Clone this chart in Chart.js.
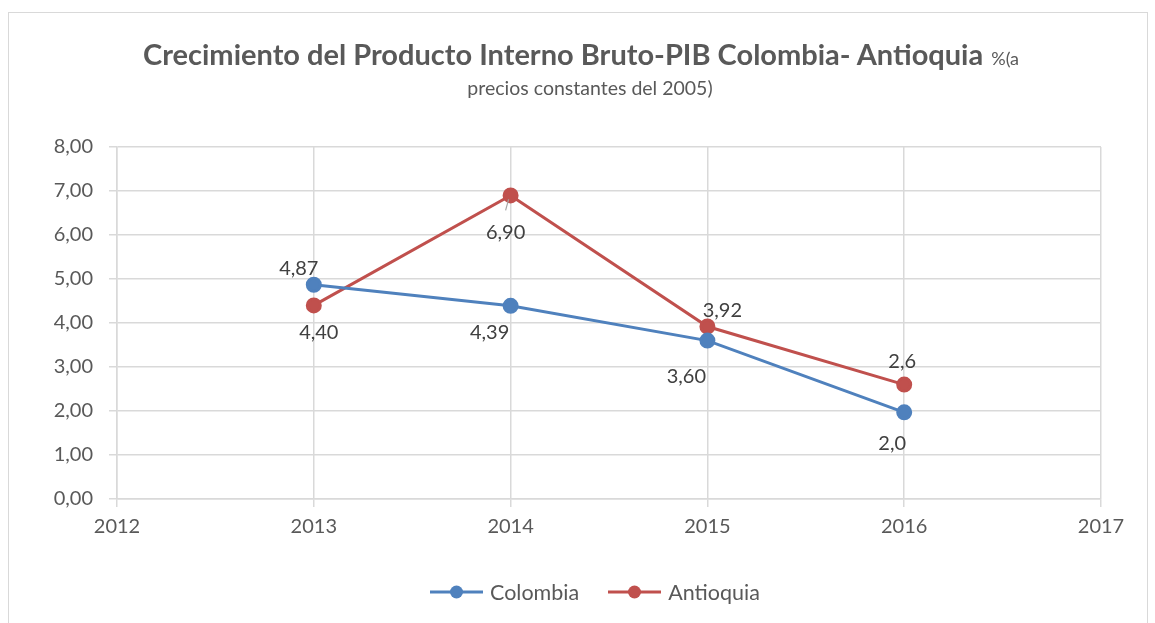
<!DOCTYPE html>
<html><head><meta charset="utf-8">
<script src="https://cdn.jsdelivr.net/npm/chart.js@4.4.0/dist/chart.umd.min.js"></script>
<style>
html,body{margin:0;padding:0;background:#fff;}
#wrap{position:relative;width:1155px;height:623px;overflow:hidden;font-family:Lato,"Open Sans",sans-serif;}
#frame{position:absolute;left:8px;top:12px;width:1140px;height:640px;border:1px solid #d9d9d9;box-sizing:border-box;}
#c{position:absolute;left:0;top:0;}
#t1{position:absolute;left:143px;top:36px;color:#595959;white-space:nowrap;}
#t1 b{font-size:29px;font-weight:700;}
#t1 span{font-size:18px;margin-left:8px;}
#t2{position:absolute;left:0;width:1180px;top:76px;text-align:center;color:#595959;font-size:19.5px;white-space:nowrap;}
#legend{position:absolute;left:430px;top:579px;color:#595959;font-size:21.5px;white-space:nowrap;}
.li{display:inline-flex;align-items:center;margin-right:29px;}
.li svg{margin-right:7px;}
</style>
</head><body>
<div id="wrap">
<div id="frame"></div>
<canvas id="c" width="1155" height="623"></canvas>
<div id="t1"><b>Crecimiento del Producto Interno Bruto-PIB Colombia- Antioquia</b><span>%(a</span></div>
<div id="t2">precios constantes del 2005)</div>
<div id="legend"></div>
</div>
<script>
const years = [2013, 2014, 2015, 2016];
const colombia = [4.87, 4.39, 3.60, 1.97];
const antioquia = [4.40, 6.90, 3.92, 2.60];
const colombiaLabels = ["4,87", "4,39", "3,60", "2,0"];
const antioquiaLabels = ["4,40", "6,90", "3,92", "2,6"];
const seriesNames = ["Colombia", "Antioquia"];
const xMin = 2012, xMax = 2017;
const yMin = 0, yMax = 8;

const BLUE = "#4f81bd", RED = "#c0504d";
const GRID = "#d9d9d9", TXT = "#595959";

// label offsets (style) relative to each point
const labelOffsets = [
  [[-15,-16],[-21,27],[-21,36],[-12,31]],
  [[5,27],[-5,37],[15,-16],[-2,-23]]
];

const labelPlugin = {
  id: 'dlabels',
  afterDatasetsDraw(chart) {
    const ctx = chart.ctx;
    ctx.save();
    ctx.font = '20px Lato, "Open Sans", sans-serif';
    ctx.fillStyle = '#404040';
    ctx.textAlign = 'center';
    ctx.textBaseline = 'middle';
    chart.data.datasets.forEach((ds, di) => {
      const meta = chart.getDatasetMeta(di);
      meta.data.forEach((el, i) => {
        const [dx, dy] = labelOffsets[di][i];
        ctx.fillText(ds.labelsText[i], el.x + dx, el.y + dy);
        if (di === 1 && i === 1) {
          ctx.strokeStyle = '#a6a6a6';
          ctx.lineWidth = 1.2;
          ctx.beginPath();
          ctx.moveTo(el.x - 2, el.y + 4);
          ctx.lineTo(el.x - 5, el.y + 15);
          ctx.stroke();
        }
      });
    });
    ctx.restore();
  }
};

const mk = (vals) => years.map((x, i) => ({x: x, y: vals[i]}));

new Chart(document.getElementById('c'), {
  type: 'line',
  data: {
    datasets: [
      {label: seriesNames[0], data: mk(colombia), labelsText: colombiaLabels,
       borderColor: BLUE, backgroundColor: BLUE, borderWidth: 3,
       pointRadius: 6.5, pointBackgroundColor: BLUE, pointBorderColor: BLUE, tension: 0},
      {label: seriesNames[1], data: mk(antioquia), labelsText: antioquiaLabels,
       borderColor: RED, backgroundColor: RED, borderWidth: 3,
       pointRadius: 6.5, pointBackgroundColor: RED, pointBorderColor: RED, tension: 0}
    ]
  },
  options: {
    responsive: false,
    animation: false,
    events: [],
    layout: {padding: {top: 147, right: 54, left: 0, bottom: 0}},
    plugins: {legend: {display: false}, title: {display: false}, tooltip: {enabled: false}},
    scales: {
      x: {
        type: 'linear', min: xMin, max: xMax,
        ticks: {stepSize: 1, callback: v => String(v), color: TXT,
                font: {family: 'Lato, "Open Sans", sans-serif', size: 20}, padding: 8},
        grid: {color: GRID, lineWidth: 1.5, tickLength: 8},
        border: {color: GRID, width: 1.5},
        afterFit(s) { s.height = 124; }
      },
      y: {
        min: yMin, max: yMax,
        ticks: {stepSize: 1, callback: v => v.toFixed(2).replace('.', ','), color: TXT,
                font: {family: 'Lato, "Open Sans", sans-serif', size: 20}, padding: 16},
        grid: {color: GRID, lineWidth: 1.5, tickLength: 8},
        border: {color: GRID, width: 1.5},
        afterFit(s) { s.width = 117; }
      }
    }
  },
  plugins: [labelPlugin]
});

// HTML legend
const legend = document.getElementById('legend');
[[seriesNames[0], BLUE], [seriesNames[1], RED]].forEach(([name, col]) => {
  const d = document.createElement('span');
  d.className = 'li';
  d.innerHTML = '<svg width="53" height="16"><line x1="0" y1="8" x2="53" y2="8" stroke="' + col +
    '" stroke-width="3"/><circle cx="26.5" cy="8" r="6.5" fill="' + col + '"/></svg>' + name;
  legend.appendChild(d);
});
</script>
</body></html>
